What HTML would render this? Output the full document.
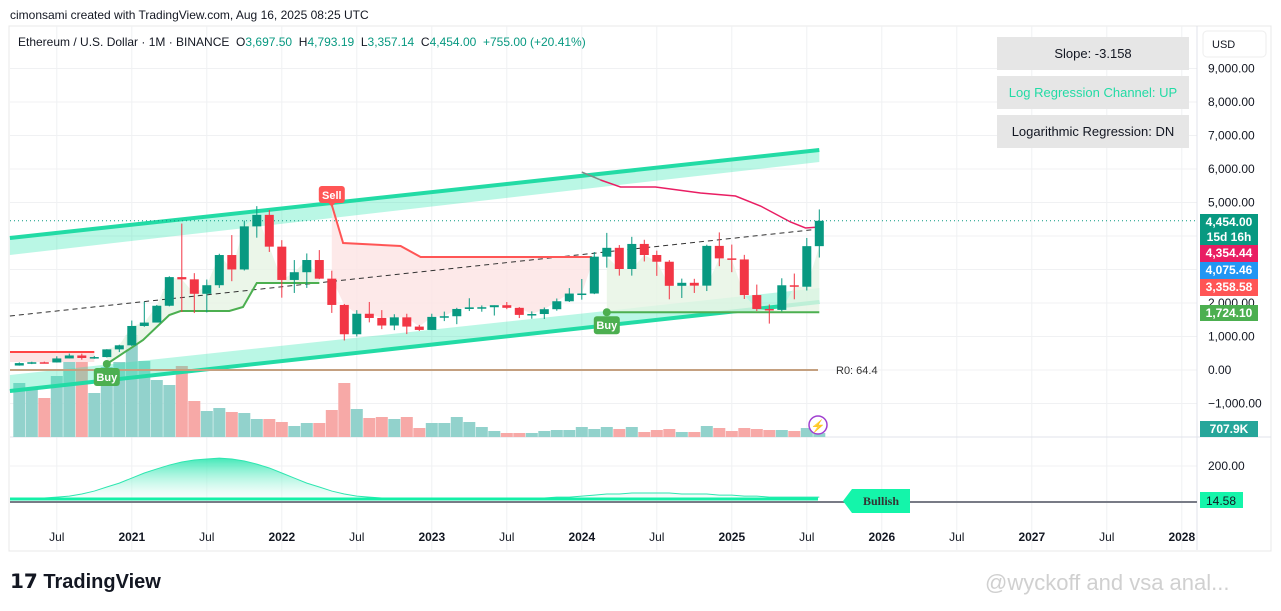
<!DOCTYPE html>
<html><head><meta charset="utf-8"><style>
body{margin:0;background:#fff;width:1281px;height:611px;overflow:hidden;font-family:"Liberation Sans",sans-serif;}
svg{position:absolute;left:0;top:0}
</style></head><body>
<svg id="c" width="1281" height="611"></svg>
<script>
const opens=[133,206,231,225,345,434,359,386,616,737,1314,1416,1918,2773,2706,2275,2531,3432,3001,4288,4631,3682,2688,2919,3283,2727,1942,1067,1679,1553,1328,1572,1296,1196,1585,1605,1822,1870,1874,1934,1856,1645,1671,1815,2052,2282,2283,3383,3647,3015,3763,3433,3232,2513,2603,2518,3705,3332,3300,2237,1822,1794,2529,2486,3697];
const highs=[227,247,250,409,490,488,420,622,755,1476,2041,1943,2797,4372,2891,2700,3470,4027,4460,4891,4778,3876,3282,3479,3580,2965,1972,1786,2031,1788,1665,1679,1347,1680,1743,1856,2142,1928,1930,2029,1878,1750,1866,2134,2445,2717,3522,4093,3730,3975,3887,3563,3280,2728,2722,3740,4107,3744,3437,2550,1957,2738,2879,3941,4793];
const lows=[130,176,216,222,343,308,335,374,535,715,1290,1540,1900,1730,1700,1718,2451,2651,2970,3950,3524,2159,2300,2450,2711,1704,881,1000,1422,1220,1190,1073,1165,1191,1460,1368,1760,1740,1626,1816,1551,1530,1522,1770,2030,2100,2265,3056,2817,2817,3240,2810,2110,2150,2300,2357,3099,2920,2120,1760,1385,1750,2111,2373,3357];
const closes=[206,231,225,345,434,359,386,616,737,1314,1416,1918,2773,2706,2275,2531,3432,3001,4288,4631,3682,2688,2919,3283,2727,1942,1067,1679,1553,1328,1572,1296,1196,1585,1605,1822,1870,1874,1934,1856,1645,1671,1815,2052,2282,2283,3383,3647,3015,3763,3433,3232,2513,2603,2518,3705,3332,3300,2237,1822,1794,2529,2486,3697,4454];
const volumes=[540,490,390,610,820,760,440,700,750,1020,760,570,520,710,360,260,290,250,240,180,180,150,110,140,140,270,540,280,190,200,180,200,90,140,140,200,150,100,60,40,40,40,60,70,70,100,80,100,80,100,50,70,80,50,50,110,90,60,90,80,70,70,60,90,40];
const osc=[30,30,35,40,45,56,71,92,112,138,164,185,205,221,231,236,241,236,226,210,190,164,138,112,92,71,56,45,40,35,30,30,30,30,30,30,30,30,30,30,35,35,35,40,40,45,50,56,56,61,61,61,61,56,56,56,50,50,45,45,40,40,40,40,40];
const priceTicks=[9000,8000,7000,6000,5000,4000,3000,2000,1000,0,-1000];
const timeLabels=["Jul","2021","Jul","2022","Jul","2023","Jul","2024","Jul","2025","Jul","2026","Jul","2027","Jul","2028"];
const timeIdx=[3,9,15,21,27,33,39,45,51,57,63,69,75,81,87,93];
const upperLine=[[-0.75,3940],[64,6567]], upperBand=[[-0.75,3433],[64,6209]];
const lowerLine=[[-0.75,-627],[64,2030]], lowerBand=[[-0.75,-149],[64,2448]];
const midLine=[[-0.75,1612],[64,4209]];
const sellStop=[[25,4925],[25.9,3791],[30.5,3701],[32.1,3373],[45.8,3373]];
const buyStop=[[7,179],[9.9,896],[12,1642],[12.9,1761],[16.8,1761],[17.9,1881],[19,2597],[24,2597]];
const buyStop2=[[47,1724],[64,1724]];
const maLine=[[46.5,5672],[48.1,5463],[50.9,5463],[54.5,5284],[57.3,5194],[59.3,4896],[61.7,4418],[62.9,4239],[64,4269]];

const X=i=>19.3+i*12.5;
const Y=v=>370-v*0.0335;
const VY=v=>437-v*0.1;
const OY=v=>502-(v-14.58)*0.194;
const svg=document.getElementById('c');
const NS='http://www.w3.org/2000/svg';
function mk(tag,at,parent){const e=document.createElementNS(NS,tag);for(const k in at)e.setAttribute(k,at[k]);(parent||svg).appendChild(e);return e;}
function txt(s,at){const e=mk('text',at);e.textContent=s;return e;}
const pts=a=>a.map(p=>X(p[0]).toFixed(1)+','+Y(p[1]).toFixed(1)).join(' ');

const defs=mk('defs',{});
const g=mk('linearGradient',{id:'og',x1:0,y1:0,x2:0,y2:1},defs);
mk('stop',{offset:'0','stop-color':'#2ee6b0','stop-opacity':'0.9'},g);
mk('stop',{offset:'1','stop-color':'#ffffff','stop-opacity':'0.3'},g);

let e=mk('rect',{x:9,y:26,width:1262,height:525,fill:'none',stroke:'#e8e8e8'});

priceTicks.forEach(v=>{mk('line',{x1:10,x2:1197,y1:Y(v),y2:Y(v),stroke:'#f0f1f3'});});
[466,502].forEach(y=>mk('line',{x1:10,x2:1197,y1:y,y2:y,stroke:'#f0f1f3'}));
timeIdx.forEach(i=>mk('line',{x1:X(i),x2:X(i),y1:26,y2:550,stroke:'#f0f1f3'}));
mk('line',{x1:10,x2:1271,y1:437,y2:437,stroke:'#e0e3eb'});
mk('line',{x1:1197,x2:1197,y1:26,y2:550,stroke:'#e0e3eb'});

volumes.forEach((v,i)=>{const r=mk('rect',{x:X(i)-6,y:VY(v),width:12,height:437-VY(v),fill:closes[i]>=opens[i]?'#92d2cc':'#f7a9a7'});

});

function band(a,b,name){const p=mk('polygon',{points:pts(a)+' '+pts(b.slice().reverse()),fill:'#2ee6b0','fill-opacity':'0.33'});
}
band(upperLine,upperBand,'upper-channel-band');band(lowerLine,lowerBand,'lower-channel-band');
e=mk('polyline',{points:pts(upperLine),stroke:'#22dba5','stroke-width':4,fill:'none'});
e=mk('polyline',{points:pts(lowerLine),stroke:'#22dba5','stroke-width':4,fill:'none'});

let fp=pts(sellStop)+' ';for(let i=46;i>=25;i--)fp+=X(i)+','+Y(Math.max(opens[i],closes[i]))+' ';
mk('polygon',{points:fp,fill:'#fde3e3','fill-opacity':'0.8'});
fp=pts(buyStop)+' ';for(let i=24;i>=7;i--)fp+=X(i)+','+Y(closes[i])+' ';
mk('polygon',{points:fp,fill:'#e6f4e4','fill-opacity':'0.8'});
fp=pts(buyStop2)+' ';for(let i=64;i>=47;i--)fp+=X(i)+','+Y(Math.min(opens[i],closes[i]))+' ';
mk('polygon',{points:fp,fill:'#e6f4e4','fill-opacity':'0.8'});
mk('rect',{x:10,y:Y(537),width:X(6)-10,height:10,fill:'#fde3e3'});
e=mk('line',{x1:10,x2:X(6),y1:Y(537),y2:Y(537),stroke:'#f44','stroke-width':2});

e=mk('polyline',{points:pts(midLine),stroke:'#333','stroke-width':1,'stroke-dasharray':'5,4',fill:'none'});
e=mk('polyline',{points:pts(sellStop),stroke:'#f55','stroke-width':2,fill:'none'});
e=mk('polyline',{points:pts(buyStop),stroke:'#4caf50','stroke-width':2,fill:'none'});
e=mk('polyline',{points:pts(buyStop2),stroke:'#4caf50','stroke-width':2,fill:'none'});
mk('polyline',{points:X(45)+','+Y(5910)+' '+X(46.5)+','+Y(5672),stroke:'#888','stroke-width':1.5,fill:'none'});
e=mk('polyline',{points:pts(maLine),stroke:'#e91e63','stroke-width':1.5,fill:'none'});
e=mk('line',{x1:10,x2:818,y1:Y(0),y2:Y(0),stroke:'#c4a080','stroke-width':2});
txt('R0:  64.4',{x:836,y:374,'font-size':11,fill:'#333'});
mk('line',{x1:10,x2:1197,y1:Y(4454),y2:Y(4454),stroke:'#089981','stroke-dasharray':'1,3'});

opens.forEach((o,i)=>{const c=closes[i],col=c>=o?'#089981':'#f23645';
const w=mk('line',{x1:X(i),x2:X(i),y1:Y(highs[i]),y2:Y(lows[i]),stroke:col,'stroke-width':1});


const t=Math.min(Y(o),Y(c)),h=Math.max(1.5,Math.abs(Y(o)-Y(c)));
const b=mk('rect',{x:X(i)-4.5,y:t,width:9,height:h,fill:col});

});

function sig(label,i,v,col,down){const x=X(i),y=Y(v);
if(down){mk('rect',{x:x-13,y:y-19,width:26,height:17,rx:3,fill:col});mk('polygon',{points:`${x-4},${y-3} ${x+4},${y-3} ${x},${y+2}`,fill:col});txt(label,{x:x,y:y-6,'font-size':11,'font-weight':'bold',fill:'#fff','text-anchor':'middle'});}
else{mk('circle',{cx:x,cy:y,r:4,fill:col});mk('rect',{x:x-13,y:y+4,width:26,height:18,rx:3,fill:col});txt(label,{x:x,y:y+17,'font-size':11,'font-weight':'bold',fill:'#fff','text-anchor':'middle'});}}
sig('Sell',25,4925,'#f55',true);sig('Buy',7,179,'#4caf50',false);sig('Buy',47,1724,'#4caf50',false);
mk('circle',{cx:818,cy:425,r:9,fill:'#fff',stroke:'#a040d0','stroke-width':1.5});
txt('⚡',{x:818,y:430,'font-size':12,fill:'#a040d0','text-anchor':'middle'});

let op=X(-0.75)+','+OY(14.58)+' ';osc.forEach((v,i)=>op+=X(i)+','+OY(v)+' ');op+=X(64)+','+OY(14.58);
e=mk('polygon',{points:op,fill:'url(#og)'});
e=mk('polyline',{points:osc.map((v,i)=>X(i)+','+OY(v)).join(' '),stroke:'#2ee6b0','stroke-width':1,fill:'none'});
mk('line',{x1:10,x2:818,y1:499,y2:499,stroke:'#14f0a8','stroke-width':3});
mk('line',{x1:10,x2:1197,y1:502,y2:502,stroke:'#787b86','stroke-width':2});
e=mk('polygon',{points:'843,501 852,489 910,489 910,513 852,513',fill:'#14f5aa'});
txt('Bullish',{x:881,y:505,'font-size':12,'font-weight':'bold','font-family':'Liberation Serif',fill:'#333','text-anchor':'middle'});

priceTicks.forEach(v=>{const t=txt(v.toLocaleString('en-US',{minimumFractionDigits:2}).replace('-','−'),{x:1208,y:Y(v)+4,'font-size':12,fill:'#131722'});

});
txt('200.00',{x:1208,y:470,'font-size':12,fill:'#131722'});
timeLabels.forEach((s,k)=>{const t=txt(s,{x:X(timeIdx[k]),y:541,'font-size':12,fill:'#131722','text-anchor':'middle','font-weight':s==='Jul'?'normal':'bold'});

});
function tag(y,h,col,lines,tc){mk('rect',{x:1200,y:y,width:58,height:h,fill:col});lines.forEach((l,k)=>txt(l,{x:1229,y:y+12+k*15,'font-size':12,'font-weight':'bold',fill:tc||'#fff','text-anchor':'middle'}));}
tag(214,31,'#089981',['4,454.00','15d 16h']);tag(245,17,'#e91e63',['4,354.44']);tag(262,17,'#2196f3',['4,075.46']);tag(279,17,'#f55',['3,358.58']);
tag(305,16,'#4caf50',['1,724.10']);tag(421,16,'#26a69a',['707.9K']);mk('rect',{x:1200,y:492,width:43,height:16,fill:'#14f5aa'});txt('14.58',{x:1221,y:505,'font-size':12,fill:'#131722','text-anchor':'middle'});
e=mk('rect',{x:1203,y:31,width:63,height:26,rx:4,fill:'#fff',stroke:'#eee'});
txt('USD',{x:1212,y:48,'font-size':11,fill:'#131722'});

[['Slope: -3.158',37,'#131722'],['Log Regression Channel: UP',76,'#22dba5'],['Logarithmic Regression: DN',115,'#131722']].forEach(b=>{
const r=mk('rect',{x:997,y:b[1],width:192,height:33,fill:'#e6e6e6'});
txt(b[0],{x:1093,y:b[1]+21,'font-size':13,fill:b[2],'text-anchor':'middle'});});

txt('cimonsami created with TradingView.com, Aug 16, 2025 08:25 UTC',{x:10,y:19,'font-size':12,fill:'#131722'});
const lg=txt('',{x:18,y:46,'font-size':12,fill:'#131722'});
[['Ethereum / U.S. Dollar · 1M · BINANCE  O','#131722'],['3,697.50','#089981'],['  H','#131722'],['4,793.19','#089981'],['  L','#131722'],['3,357.14','#089981'],['  C','#131722'],['4,454.00  +755.00 (+20.41%)','#089981']].forEach(p=>{const s=mk('tspan',{fill:p[1]},lg);s.setAttribute('xml:space','preserve');s.textContent=p[0];});
lg.setAttribute('style','white-space:pre');
e=txt('𝟭𝟳 TradingView',{x:10,y:588,'font-size':20,'font-weight':'bold',fill:'#131722'});
txt('@wyckoff and vsa anal...',{x:985,y:590,'font-size':22,fill:'#d0d0d0'});
</script>
</body></html>
